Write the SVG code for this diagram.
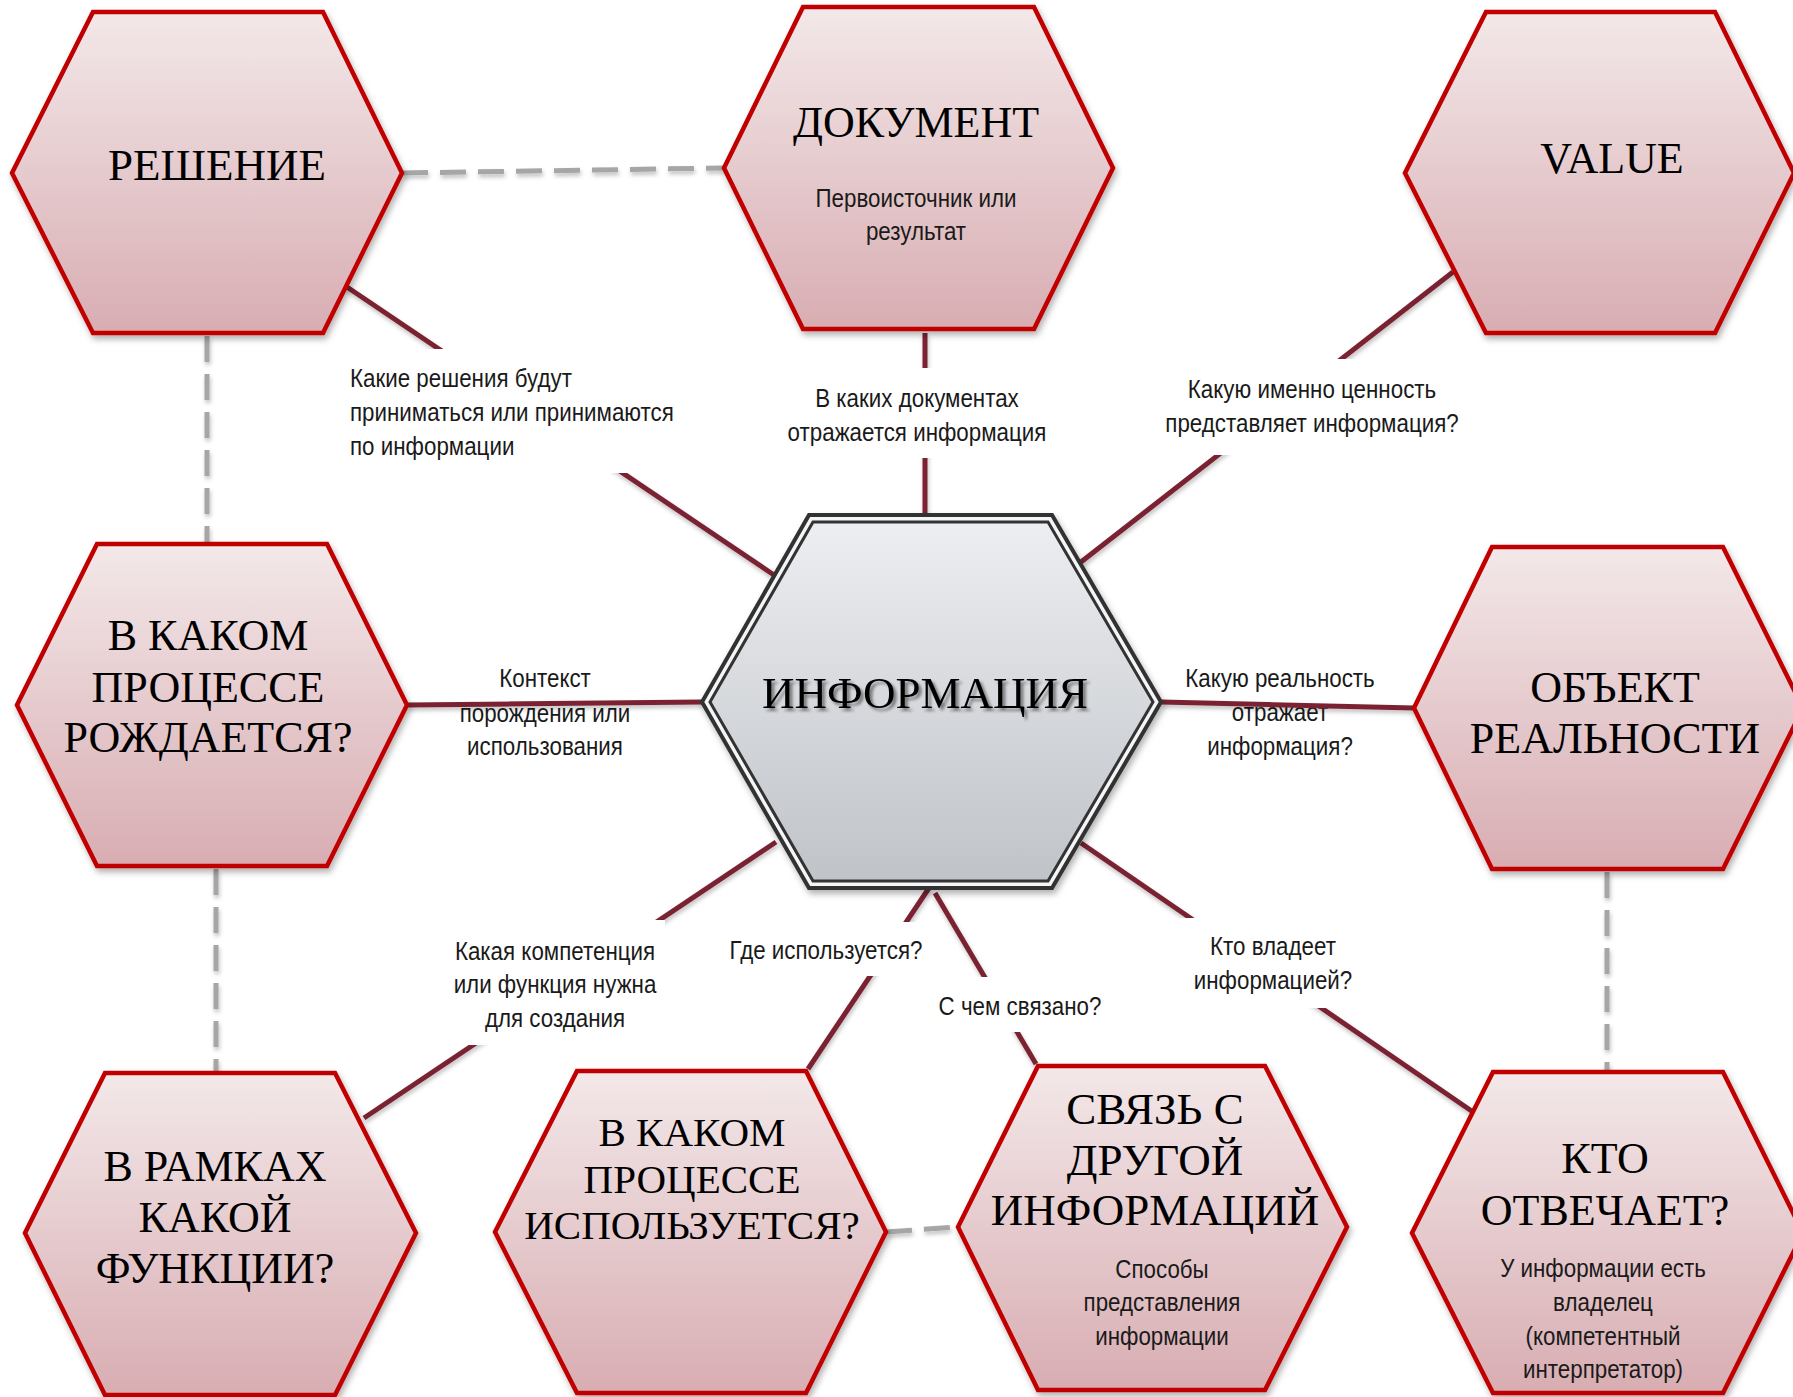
<svg xmlns="http://www.w3.org/2000/svg" width="1793" height="1397" viewBox="0 0 1793 1397">
<defs>
<linearGradient id="gRed" x1="0" y1="0" x2="0" y2="1">
<stop offset="0" stop-color="#f3e8e9"/>
<stop offset="1" stop-color="#d8adb2"/>
</linearGradient>
<linearGradient id="gGray" x1="0" y1="0" x2="0" y2="1">
<stop offset="0" stop-color="#eceef1"/>
<stop offset="1" stop-color="#c0c3c8"/>
</linearGradient>
<filter id="sh" x="-10%" y="-10%" width="125%" height="125%">
<feDropShadow dx="2" dy="4" stdDeviation="3" flood-color="#000" flood-opacity="0.3"/>
</filter>
<filter id="lsh" filterUnits="userSpaceOnUse" x="0" y="0" width="1793" height="1397">
<feDropShadow dx="1" dy="3" stdDeviation="2" flood-color="#000" flood-opacity="0.25"/>
</filter>
<filter id="tsh" x="-10%" y="-20%" width="125%" height="150%">
<feDropShadow dx="3" dy="3" stdDeviation="1.5" flood-color="#000" flood-opacity="0.45"/>
</filter>
</defs>
<style>
.hex{fill:url(#gRed);stroke:#c00000;stroke-width:4.5;filter:url(#sh)}
.ttl{font-family:"Liberation Serif","Times New Roman",serif;fill:#000;text-anchor:middle}
.sub,.lbl{font-family:"Liberation Sans",Arial,sans-serif;font-size:26px;fill:#1a1a1a;text-anchor:middle}
.ln{stroke:#7a2332;stroke-width:5;fill:none;filter:url(#lsh)}
.dash{stroke:#a6a6a6;stroke-width:5;fill:none;stroke-dasharray:26 12;filter:url(#lsh)}
.box{fill:#fff}
</style>
<rect width="1793" height="1397" fill="#fff"/>

<!-- labels under the horizontal connectors -->
<g id="labels-under">
<text class="lbl" transform="translate(545 0) scale(0.86 1)"><tspan x="0" y="687">Контекст</tspan><tspan x="0" y="722">порождения или</tspan><tspan x="0" y="755">использования</tspan></text>
<text class="lbl" transform="translate(1280 0) scale(0.86 1)"><tspan x="0" y="687">Какую реальность</tspan><tspan x="0" y="721">отражает</tspan><tspan x="0" y="755">информация?</tspan></text>
</g>

<g id="connectors">
<line class="dash" x1="402" y1="173" x2="724" y2="168"/>
<line class="dash" x1="207" y1="336" x2="207" y2="544"/>
<line class="dash" x1="216" y1="869" x2="216" y2="1073"/>
<line class="dash" x1="1607" y1="872" x2="1607" y2="1072"/>
<line class="dash" x1="886" y1="1232" x2="958" y2="1227"/>
<line class="ln" x1="344" y1="285" x2="774" y2="575"/>
<line class="ln" x1="925" y1="333" x2="925" y2="518"/>
<line class="ln" x1="1453" y1="272" x2="1081" y2="562"/>
<line class="ln" x1="407" y1="705" x2="702" y2="702"/>
<line class="ln" x1="1161" y1="702" x2="1414" y2="708"/>
<line class="ln" x1="776" y1="842" x2="364" y2="1118"/>
<line class="ln" x1="929" y1="888" x2="808" y2="1069"/>
<line class="ln" x1="935" y1="893" x2="1036" y2="1064"/>
<line class="ln" x1="1081" y1="843" x2="1473" y2="1112"/>
</g>

<g id="labels">
<rect class="box" x="345" y="349" width="340" height="124"/>
<text class="lbl" style="text-anchor:start" transform="translate(350 0) scale(0.86 1)"><tspan x="0" y="387">Какие решения будут</tspan><tspan x="0" y="421">приниматься или принимаются</tspan><tspan x="0" y="455">по информации</tspan></text>
<rect class="box" x="780" y="368" width="275" height="90"/>
<text class="lbl" transform="translate(917 0) scale(0.86 1)"><tspan x="0" y="407">В каких документах</tspan><tspan x="0" y="441">отражается информация</tspan></text>
<rect class="box" x="1160" y="359" width="300" height="96"/>
<text class="lbl" transform="translate(1312 0) scale(0.86 1)"><tspan x="0" y="398">Какую именно ценность</tspan><tspan x="0" y="432">представляет информация?</tspan></text>
<rect class="box" x="445" y="920" width="220" height="125"/>
<text class="lbl" transform="translate(555 0) scale(0.86 1)"><tspan x="0" y="960">Какая компетенция</tspan><tspan x="0" y="993">или функция нужна</tspan><tspan x="0" y="1027">для создания</tspan></text>
<rect class="box" x="725" y="922" width="205" height="54"/>
<text class="lbl" transform="translate(826 0) scale(0.86 1)" x="0" y="959">Где используется?</text>
<rect class="box" x="930" y="977" width="180" height="55"/>
<text class="lbl" transform="translate(1020 0) scale(0.86 1)" x="0" y="1015">С чем связано?</text>
<rect class="box" x="1180" y="918" width="180" height="90"/>
<text class="lbl" transform="translate(1273 0) scale(0.86 1)"><tspan x="0" y="955">Кто владеет</tspan><tspan x="0" y="989">информацией?</tspan></text>
</g>

<g id="n-reshenie">
<polygon class="hex" points="93,12 323,12 402,173 323,333 93,333 12,173"/>
<text class="ttl" x="217" y="180" font-size="45">РЕШЕНИЕ</text>
</g>
<g id="n-dokument">
<polygon class="hex" points="803,7 1034,7 1113,168 1034,329 803,329 724,168"/>
<text class="ttl" x="916" y="137" font-size="44">ДОКУМЕНТ</text>
<text class="sub" transform="translate(916 0) scale(0.86 1)"><tspan x="0" y="207">Первоисточник или</tspan><tspan x="0" y="240">результат</tspan></text>
</g>
<g id="n-value">
<polygon class="hex" points="1486,12 1715,12 1794,173 1715,333 1486,333 1405,173"/>
<text class="ttl" x="1612" y="173" font-size="44">VALUE</text>
</g>
<g id="n-rozhdaetsya">
<polygon class="hex" points="97,544 327,544 407,705 327,866 97,866 17,705"/>
<text class="ttl" font-size="44"><tspan x="208" y="650">В КАКОМ</tspan><tspan x="208" y="702">ПРОЦЕССЕ</tspan><tspan x="208" y="752">РОЖДАЕТСЯ?</tspan></text>
</g>
<g id="n-informaciya">
<polygon points="809,515 1052,515 1161,702 1052,888 809,888 702,702" fill="#f4f5f6" stroke="#333" stroke-width="4" filter="url(#sh)"/>
<polygon points="813,522 1048,522 1153,702 1048,881 813,881 710,702" fill="url(#gGray)" stroke="#333" stroke-width="3"/>
<text class="ttl" x="925" y="708" font-size="45" filter="url(#tsh)">ИНФОРМАЦИЯ</text>
</g>
<g id="n-obekt">
<polygon class="hex" points="1492,547 1723,547 1803,708 1723,869 1492,869 1414,708"/>
<text class="ttl" font-size="44"><tspan x="1615" y="702">ОБЪЕКТ</tspan><tspan x="1615" y="753">РЕАЛЬНОСТИ</tspan></text>
</g>
<g id="n-funkcii">
<polygon class="hex" points="105,1073 335,1073 416,1233 335,1395 105,1395 25,1233"/>
<text class="ttl" font-size="44"><tspan x="215" y="1181">В РАМКАХ</tspan><tspan x="215" y="1232">КАКОЙ</tspan><tspan x="215" y="1283">ФУНКЦИИ?</tspan></text>
</g>
<g id="n-ispolzuetsya">
<polygon class="hex" points="577,1071 806,1071 886,1232 806,1393 577,1393 495,1232"/>
<text class="ttl" font-size="41"><tspan x="692" y="1146">В КАКОМ</tspan><tspan x="692" y="1193">ПРОЦЕССЕ</tspan><tspan x="692" y="1239">ИСПОЛЬЗУЕТСЯ?</tspan></text>
</g>
<g id="n-svyaz">
<polygon class="hex" points="1038,1066 1265,1066 1347,1227 1265,1390 1038,1390 958,1227"/>
<text class="ttl" font-size="45"><tspan x="1155" y="1124">СВЯЗЬ С</tspan><tspan x="1155" y="1175">ДРУГОЙ</tspan><tspan x="1155" y="1225">ИНФОРМАЦИЙ</tspan></text>
<text class="sub" transform="translate(1162 0) scale(0.86 1)"><tspan x="0" y="1278">Способы</tspan><tspan x="0" y="1311">представления</tspan><tspan x="0" y="1345">информации</tspan></text>
</g>
<g id="n-kto">
<polygon class="hex" points="1493,1072 1723,1072 1803,1233 1723,1393 1493,1393 1412,1233"/>
<text class="ttl" font-size="44"><tspan x="1605" y="1173">КТО</tspan><tspan x="1605" y="1225">ОТВЕЧАЕТ?</tspan></text>
<text class="sub" transform="translate(1603 0) scale(0.86 1)"><tspan x="0" y="1277">У информации есть</tspan><tspan x="0" y="1311">владелец</tspan><tspan x="0" y="1345">(компетентный</tspan><tspan x="0" y="1378">интерпретатор)</tspan></text>
</g>
</svg>
